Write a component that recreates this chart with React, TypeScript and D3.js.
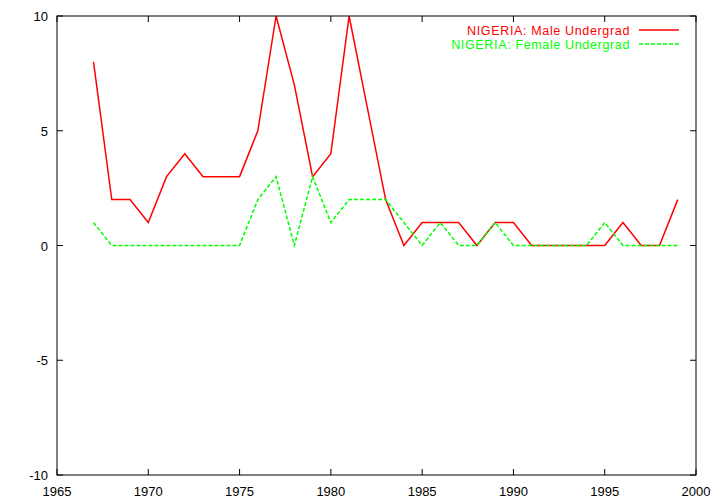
import React from "react";
import * as d3 from "d3";

const years = [1967,1968,1969,1970,1971,1972,1973,1974,1975,1976,1977,1978,1979,1980,1981,1982,1983,1984,1985,1986,1987,1988,1989,1990,1991,1992,1993,1994,1995,1996,1997,1998,1999];
const male = [8,2,2,1,3,4,3,3,3,5,10,7,3,4,10,6,2,0,1,1,1,0,1,1,0,0,0,0,0,1,0,0,2];
const female = [1,0,0,0,0,0,0,0,0,2,3,0,3,1,2,2,2,1,0,1,0,0,1,0,0,0,0,0,1,0,0,0,0];
const xTicks = [1965,1970,1975,1980,1985,1990,1995,2000];
const yTicks = [-10,-5,0,5,10];
const seriesNames = ["NIGERIA: Male Undergrad", "NIGERIA: Female Undergrad"];

const W = 720, H = 504;
const L = 57, R = 696, T = 16, B = 475;
const font = "'Liberation Sans', Arial, sans-serif";

export default function App() {
  const x = d3.scaleLinear().domain([1965, 2000]).range([L, R]);
  const y = d3.scaleLinear().domain([-10, 10]).range([B, T]);
  const line = d3.line<number>().x((_, i) => x(years[i])).y(d => y(d));
  const tl = 6;
  return (
    <svg width={W} height={H} style={{ position: "absolute", left: 0, top: 0, background: "#fff" }}>
      <rect x={0} y={0} width={W} height={H} fill="#fff" />
      <path d={line(male) ?? ""} fill="none" stroke="#ff0000" strokeWidth={1.5} />
      <path d={line(female) ?? ""} fill="none" stroke="#00ff00" strokeWidth={1.5} strokeDasharray="4,2" />
      <rect x={L} y={T} width={R - L} height={B - T} fill="none" stroke="#000" strokeWidth={1} />
      {xTicks.map(t => (
        <g key={"x" + t}>
          <line x1={x(t)} x2={x(t)} y1={B} y2={B - tl} stroke="#000" />
          <line x1={x(t)} x2={x(t)} y1={T} y2={T + tl} stroke="#000" />
          <text x={x(t)} y={B + 21} textAnchor="middle" fontFamily={font} fontSize={13}>{t}</text>
        </g>
      ))}
      {yTicks.map(t => (
        <g key={"y" + t}>
          <line x1={L} x2={L + tl} y1={y(t)} y2={y(t)} stroke="#000" />
          <line x1={R} x2={R - tl} y1={y(t)} y2={y(t)} stroke="#000" />
          <text x={48} y={y(t) + 5} textAnchor="end" fontFamily={font} fontSize={13}>{t}</text>
        </g>
      ))}
      <text x={630} y={35} textAnchor="end" fontFamily={font} fontSize={12.5} letterSpacing={0.65} fill="#ff0000">{seriesNames[0]}</text>
      <line x1={639} x2={679} y1={30} y2={30} stroke="#ff0000" strokeWidth={1.5} />
      <text x={630} y={49} textAnchor="end" fontFamily={font} fontSize={12.5} letterSpacing={0.65} fill="#00ff00">{seriesNames[1]}</text>
      <line x1={639} x2={679} y1={44} y2={44} stroke="#00ff00" strokeWidth={1.5} strokeDasharray="4,2" />
    </svg>
  );
}
